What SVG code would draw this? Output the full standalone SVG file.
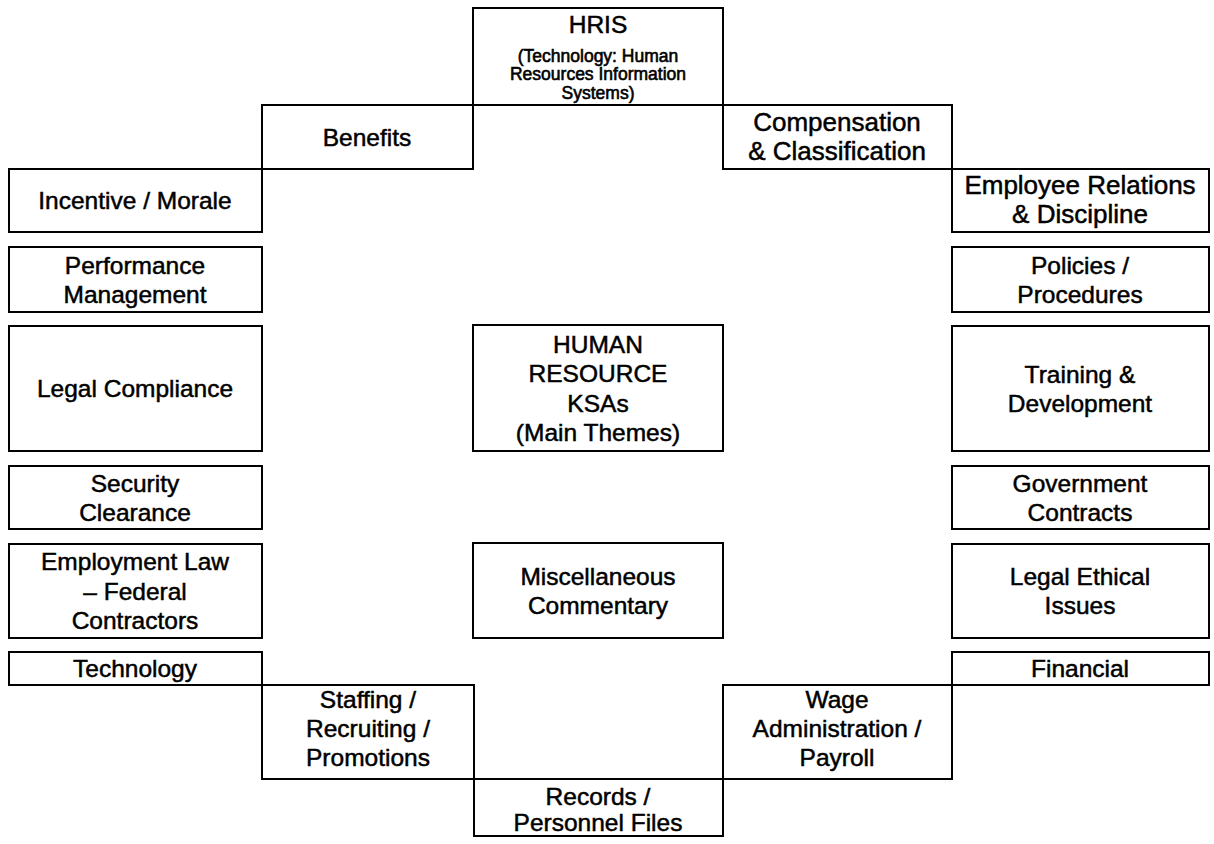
<svg xmlns="http://www.w3.org/2000/svg" width="1214" height="844" viewBox="0 0 1214 844">
<style>
rect{fill:none;stroke:#000;stroke-width:2}
text{font-family:"Liberation Sans",Arial,sans-serif;font-size:24.5px;fill:#000;stroke:#000;stroke-width:0.5;text-anchor:middle}
.s{font-size:17.5px;stroke-width:0.6}
.w{font-size:26px}
</style>
<rect x="0" y="0" width="1214" height="844" style="fill:#fff;stroke:none"/>
<g id="hris"><rect x="473" y="8" width="250" height="97"/><text x="598" y="33">HRIS</text><text class="s" x="598" y="62">(Technology: Human</text><text class="s" x="598" y="80">Resources Information</text><text class="s" x="598" y="99">Systems)</text></g>
<g id="benefits"><rect x="262" y="105" width="211" height="64"/><text x="367" y="146">Benefits</text></g>
<g id="compensation"><rect x="723" y="105" width="229" height="64"/><text class="w" x="837" y="131">Compensation</text><text class="w" x="837" y="160">&amp; Classification</text></g>
<g id="incentive"><rect x="9" y="169" width="253" height="63"/><text x="135" y="209">Incentive / Morale</text></g>
<g id="performance"><rect x="9" y="247" width="253" height="65"/><text x="135" y="274">Performance</text><text x="135" y="303">Management</text></g>
<g id="legal-compliance"><rect x="9" y="326" width="253" height="125"/><text x="135" y="397">Legal Compliance</text></g>
<g id="security"><rect x="9" y="466" width="253" height="63"/><text x="135" y="492">Security</text><text x="135" y="521">Clearance</text></g>
<g id="employment-law"><rect x="9" y="544" width="253" height="94"/><text x="135" y="570">Employment Law</text><text x="135" y="600">– Federal</text><text x="135" y="629">Contractors</text></g>
<g id="technology"><rect x="9" y="652" width="253" height="33"/><text x="135" y="677">Technology</text></g>
<g id="staffing"><rect x="262" y="685" width="212" height="94"/><text x="368" y="708">Staffing /</text><text x="368" y="737">Recruiting /</text><text x="368" y="766">Promotions</text></g>
<g id="records"><rect x="474" y="779" width="249" height="57"/><text x="598" y="805">Records /</text><text x="598" y="831">Personnel Files</text></g>
<g id="wage"><rect x="723" y="685" width="229" height="94"/><text x="837" y="708">Wage</text><text x="837" y="737">Administration /</text><text x="837" y="766">Payroll</text></g>
<g id="financial"><rect x="952" y="652" width="257" height="33"/><text x="1080" y="677">Financial</text></g>
<g id="legal-ethical"><rect x="952" y="544" width="257" height="94"/><text x="1080" y="585">Legal Ethical</text><text x="1080" y="614">Issues</text></g>
<g id="government"><rect x="952" y="466" width="257" height="63"/><text x="1080" y="492">Government</text><text x="1080" y="521">Contracts</text></g>
<g id="training"><rect x="952" y="326" width="257" height="125"/><text x="1080" y="383">Training &amp;</text><text x="1080" y="412">Development</text></g>
<g id="policies"><rect x="952" y="247" width="257" height="65"/><text x="1080" y="274">Policies /</text><text x="1080" y="303">Procedures</text></g>
<g id="employee-relations"><rect x="952" y="169" width="257" height="63"/><text class="w" x="1080" y="194">Employee Relations</text><text class="w" x="1080" y="223">&amp; Discipline</text></g>
<g id="hr-ksas"><rect x="473" y="325" width="250" height="126"/><text x="598" y="353">HUMAN</text><text x="598" y="382">RESOURCE</text><text x="598" y="412">KSAs</text><text x="598" y="441">(Main Themes)</text></g>
<g id="misc"><rect x="473" y="543" width="250" height="95"/><text x="598" y="585">Miscellaneous</text><text x="598" y="614">Commentary</text></g>
<g id="connectors"></g>
</svg>
